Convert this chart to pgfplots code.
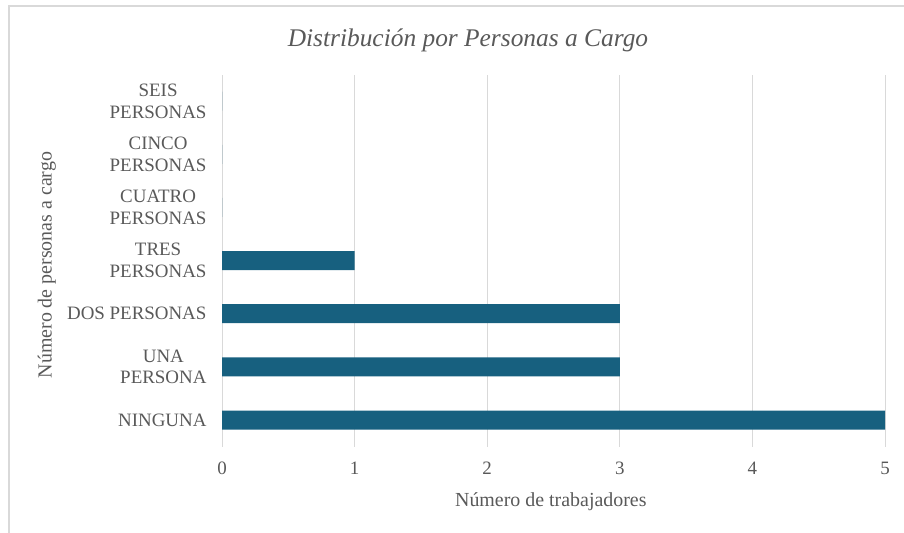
\documentclass[border=0pt]{standalone}
\usepackage{fontspec}
\setmainfont{Liberation Serif}
\usepackage{pgfplots}
\pgfplotsset{compat=1.18}
\definecolor{bar}{HTML}{17607F}
\definecolor{txt}{HTML}{595959}
\definecolor{grid}{HTML}{D9D9D9}
\begin{document}
\begin{tikzpicture}[x=1bp,y=1bp]
\useasboundingbox (0,0) rectangle (904,533);
% frame (only left and top visible in the crop)
\draw[grid, line width=1.2bp] (9,0) -- (9,527) -- (904,527);
\begin{axis}[
  at={(222bp,86.4bp)}, anchor=south west,
  scale only axis, width=663bp, height=372bp,
  xbar, bar width=19bp,
  xmin=0, xmax=5, ymin=-0.5, ymax=6.5,
  xtick={0,1,2,3,4,5},
  ytick={0,1,2,3,4,5,6},
  yticklabels={NINGUNA,UNA\\PERSONA,DOS PERSONAS,TRES\\PERSONAS,CUATRO\\PERSONAS,CINCO\\PERSONAS,SEIS\\PERSONAS},
  axis line style={draw=none},
  major tick length=0pt,
  xmajorgrids, ymajorgrids=false,
  grid style={draw=grid, line width=1bp},
  /pgf/number format/assume math mode=true,
  tick label style={font=\fontsize{19}{22}\selectfont, text=txt},
  yticklabel style={align=center, xshift=-12bp},
  xticklabel style={yshift=-12bp},
  title={Distribución por Personas a Cargo},
  title style={font=\fontsize{25.5}{28}\selectfont\itshape, text=txt, at={(axis description cs:0.371,1.077)}, anchor=center},
  xlabel={Número de trabajadores},
  xlabel style={font=\fontsize{20}{24}\selectfont, text=txt, at={(axis description cs:0.496,-0.149)}, anchor=center},
  ylabel={Número de personas a cargo},
  ylabel style={font=\fontsize{20}{24}\selectfont, text=txt, at={(axis description cs:-0.264,0.488)}, anchor=center, rotate=0},
]
\addplot[fill=bar, draw=none] coordinates {(5,0) (3,1) (3,2) (1,3) (0,4) (0,5) (0,6)};
\end{axis}
\end{tikzpicture}
\end{document}
